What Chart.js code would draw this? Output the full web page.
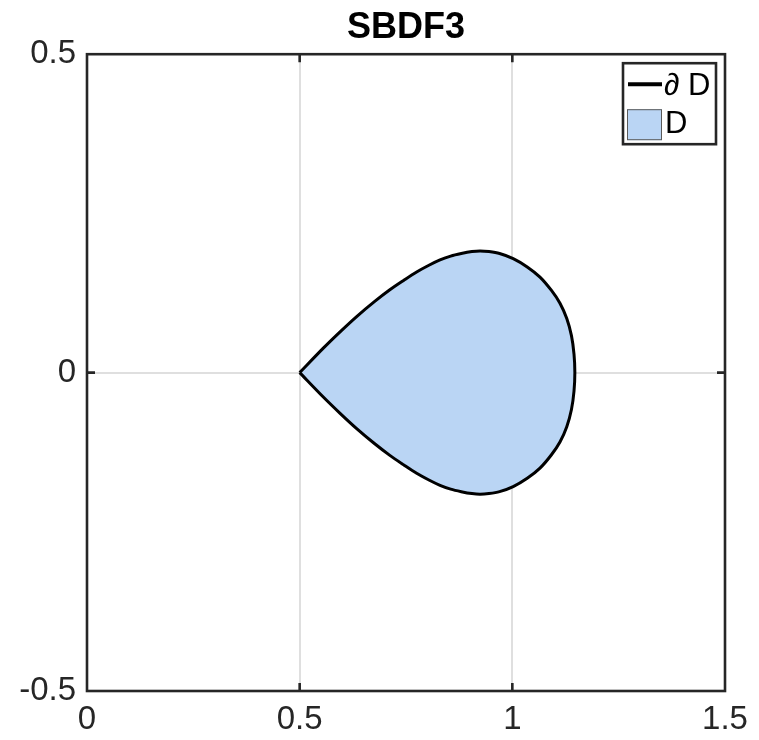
<!DOCTYPE html>
<html>
<head>
<meta charset="utf-8">
<script src="https://cdn.jsdelivr.net/npm/chart.js@4.4.1/dist/chart.umd.min.js"></script>
<style>
  html, body { margin: 0; padding: 0; background: #ffffff; }
  #wrap { position: relative; width: 759px; height: 740px; }
</style>
</head>
<body>
<div id="wrap"><canvas id="c"></canvas></div>
<script>
// ---- data ----
const chartTitle = 'SBDF3';
const legendLabels = ['\u2202 D', 'D'];

// boundary of D: starts at the cusp, runs over the top, back along the bottom
const boundaryX = [
  0.500, 0.555, 0.595, 0.634, 0.675, 0.712, 0.745, 0.775, 0.805, 0.830,
  0.855, 0.880, 0.905, 0.924, 0.945, 0.970, 1.002, 1.035, 1.065, 1.092,
  1.112, 1.128, 1.139, 1.145, 1.147,
  1.145, 1.139, 1.128, 1.112, 1.092, 1.065, 1.035, 1.002, 0.970, 0.945,
  0.924, 0.905, 0.880, 0.855, 0.830, 0.805, 0.775, 0.745, 0.712, 0.675,
  0.634, 0.595, 0.555, 0.500
];
const boundaryY = [
  0.000, 0.038, 0.064, 0.088, 0.111, 0.130, 0.145, 0.158, 0.169, 0.177,
  0.183, 0.187, 0.190, 0.191, 0.190, 0.187, 0.179, 0.166, 0.150, 0.129,
  0.109, 0.085, 0.058, 0.029, 0.000,
  -0.029, -0.058, -0.085, -0.109, -0.129, -0.150, -0.166, -0.179, -0.187, -0.190,
  -0.191, -0.190, -0.187, -0.183, -0.177, -0.169, -0.158, -0.145, -0.130, -0.111,
  -0.088, -0.064, -0.038, 0.000
];

const xTickValues = [0, 0.5, 1, 1.5];
const xTickLabels = ['0', '0.5', '1', '1.5'];
const yTickValues = [-0.5, 0, 0.5];
const yTickLabels = ['-0.5', '0', '0.5'];

// ---- styles ----
const FONT = '"Liberation Sans", Arial, Helvetica, sans-serif';
const AXIS_COLOR = '#262626';
const FILL_COLOR = '#bad5f4';
const GRID_COLOR = '#dfdfdf';

const points = boundaryX.map((x, i) => ({ x: x, y: boundaryY[i] }));

function labelFor(values, labels, v) {
  const i = values.findIndex(t => Math.abs(t - v) < 1e-9);
  return i >= 0 ? labels[i] : '';
}

const framePlugin = {
  id: 'matlabFrame',
  afterDraw(chart) {
    const { ctx, chartArea: a, scales } = chart;
    const xs = scales.x, ys = scales.y;
    ctx.save();
    // inward tick marks
    ctx.strokeStyle = AXIS_COLOR;
    ctx.lineWidth = 2.6;
    ctx.beginPath();
    xTickValues.forEach(v => {
      if (v <= xs.min || v >= xs.max) return;
      const p = xs.getPixelForValue(v);
      ctx.moveTo(p, a.bottom); ctx.lineTo(p, a.bottom - 8);
      ctx.moveTo(p, a.top); ctx.lineTo(p, a.top + 8);
    });
    yTickValues.forEach(v => {
      if (v <= ys.min || v >= ys.max) return;
      const p = ys.getPixelForValue(v);
      ctx.moveTo(a.left, p); ctx.lineTo(a.left + 8, p);
      ctx.moveTo(a.right, p); ctx.lineTo(a.right - 8, p);
    });
    ctx.stroke();
    // box
    ctx.strokeRect(a.left, a.top, a.right - a.left, a.bottom - a.top);

    // legend (inside, top-right)
    const W = 93, H = 81;
    const L = a.right - 9 - W, T = a.top + 9;
    ctx.fillStyle = '#ffffff';
    ctx.fillRect(L, T, W, H);
    ctx.strokeStyle = AXIS_COLOR;
    ctx.lineWidth = 2.6;
    ctx.strokeRect(L, T, W, H);

    const dsLine = chart.data.datasets[0];
    const dsFill = chart.data.datasets[1];
    // entry 1: boundary line
    ctx.strokeStyle = dsLine.borderColor;
    ctx.lineWidth = 4;
    ctx.beginPath();
    ctx.moveTo(L + 5, T + 21); ctx.lineTo(L + 39, T + 21);
    ctx.stroke();
    // entry 2: filled patch
    ctx.fillStyle = dsFill.backgroundColor;
    ctx.fillRect(L + 4, T + 46, 35, 31);
    ctx.strokeStyle = '#5a5a5a';
    ctx.lineWidth = 1;
    ctx.strokeRect(L + 4.5, T + 46.5, 34, 30);

    ctx.fillStyle = '#000000';
    ctx.font = '31px ' + FONT;
    ctx.textBaseline = 'middle';
    ctx.textAlign = 'left';
    ctx.fillText(dsLine.label, L + 41, T + 23);
    ctx.fillText(dsFill.label, L + 42, T + 61);
    ctx.restore();
  }
};

Chart.defaults.font.family = FONT;
Chart.defaults.color = AXIS_COLOR;

new Chart(document.getElementById('c'), {
  type: 'scatter',
  data: {
    datasets: [
      {
        label: legendLabels[0],
        data: points,
        showLine: true,
        fill: false,
        borderColor: '#000000',
        borderWidth: 3,
        pointRadius: 0,
        tension: 0.3
      },
      {
        label: legendLabels[1],
        data: points,
        showLine: true,
        fill: 'shape',
        backgroundColor: FILL_COLOR,
        borderWidth: 0,
        borderColor: 'rgba(0,0,0,0)',
        pointRadius: 0,
        tension: 0.3
      }
    ]
  },
  options: {
    responsive: true,
    maintainAspectRatio: false,
    animation: false,
    devicePixelRatio: 1,
    layout: { padding: { left: 0, right: 34, top: 0, bottom: 0 } },
    plugins: {
      legend: { display: false },
      tooltip: { enabled: false },
      title: {
        display: true,
        text: chartTitle,
        fullSize: false,
        color: '#000000',
        font: { family: FONT, size: 36, weight: 'bold', lineHeight: 1.2 },
        padding: { top: 6, bottom: 5 }
      }
    },
    scales: {
      x: {
        type: 'linear',
        min: 0, max: 1.5,
        afterFit: s => { s.height = 49; },
        afterBuildTicks: s => { s.ticks = xTickValues.map(v => ({ value: v })); },
        ticks: {
          padding: 9,
          maxRotation: 0,
          font: { size: 33 },
          color: AXIS_COLOR,
          callback: v => labelFor(xTickValues, xTickLabels, v)
        },
        grid: {
          drawTicks: false,
          lineWidth: 2,
          color: c => (c.tick && (c.tick.value <= 0 || c.tick.value >= 1.5)) ? 'rgba(0,0,0,0)' : GRID_COLOR
        },
        border: { display: false }
      },
      y: {
        type: 'linear',
        min: -0.5, max: 0.5,
        afterFit: s => { s.width = 87; },
        afterBuildTicks: s => { s.ticks = yTickValues.map(v => ({ value: v })); },
        ticks: {
          padding: 11,
          font: { size: 33 },
          color: AXIS_COLOR,
          callback: v => labelFor(yTickValues, yTickLabels, v)
        },
        grid: {
          drawTicks: false,
          lineWidth: 2,
          color: c => (c.tick && (c.tick.value <= -0.5 || c.tick.value >= 0.5)) ? 'rgba(0,0,0,0)' : GRID_COLOR
        },
        border: { display: false }
      }
    }
  },
  plugins: [framePlugin]
});
</script>
</body>
</html>
